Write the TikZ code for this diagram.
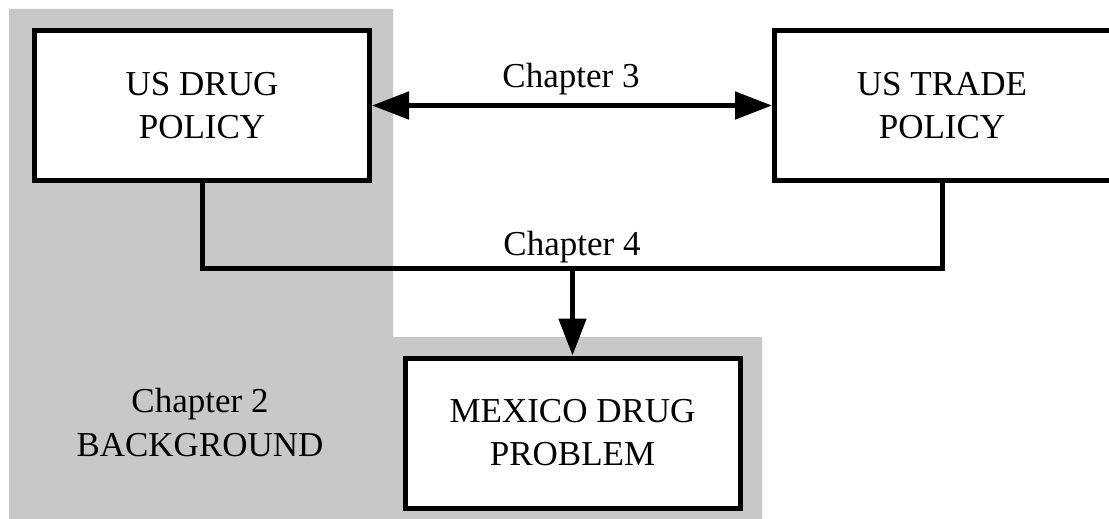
\documentclass[tikz,border=0pt]{standalone}
\usepackage{fontspec}
\setmainfont{Liberation Serif}
\usetikzlibrary{arrows.meta}
\definecolor{bg}{RGB}{200,200,200}
\begin{document}
\begin{tikzpicture}[x=1pt,y=-1pt,
  box/.style={draw, line width=5pt, fill=white, minimum width=335pt, minimum height=150pt, inner sep=0pt, align=center, font=\fontsize{35}{43}\selectfont},
  lbl/.style={font=\fontsize{35}{44}\selectfont, align=center, inner sep=0pt},
  conn/.style={line width=5pt},
  tipb/.style={-{Triangle[length=37pt,width=27pt]}},
  tipbb/.style={{Triangle[length=37pt,width=27pt]}-{Triangle[length=37pt,width=27pt]}}]
\useasboundingbox (0,0) rectangle (1109,519);
\clip (0,0) rectangle (1109,519);
\fill[white] (0,0) rectangle (1109,519);
\fill[bg] (9,9) -- (393,9) -- (393,337) -- (762,337) -- (762,519) -- (9,519) -- cycle;
\node[box] (drug) at (202,105.5) {US DRUG\\POLICY};
\node[box, minimum width=370pt] (trade) at (959.5,105.5) {};
\node[lbl, font=\fontsize{35}{43}\selectfont] (tradetxt) at (942,105.5) {US TRADE\\POLICY};
\node[box] (mex) at (572.5,433) {MEXICO DRUG\\PROBLEM};
\node[lbl, anchor=base] (c3) at (571,88) {Chapter 3};
\node[lbl, anchor=base] (c4) at (572,255) {Chapter 4};
\node[lbl] (c2) at (200,423) {Chapter 2\\BACKGROUND};
\draw[conn, tipbb] (drug.east) -- (trade.west);
\coordinate (j) at (572.5,268);
\coordinate (ts) at (tradetxt.center |- trade.south);
\draw[conn] (drug.south) -- (drug.south |- j) -- (ts |- j) -- (ts);
\draw[conn, tipb] (j) -- (mex.north);
\end{tikzpicture}
\end{document}
